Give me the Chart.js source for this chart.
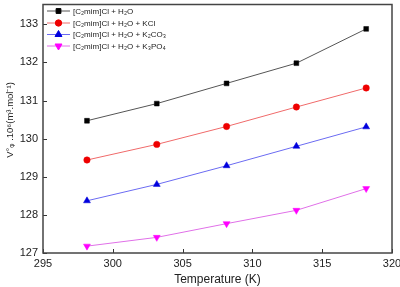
<!DOCTYPE html>
<html lang="en">
<head>
    <meta charset="UTF-8">
    <title>Apparent molar volume vs temperature</title>
    <style>
        html, body { margin: 0; padding: 0; background: #fff; }
        #wrap { width: 400px; height: 287px; position: relative; }
    </style>
    <script src="https://cdn.jsdelivr.net/npm/chart.js@4"></script>
</head>
<body>
    <div id="wrap"><canvas id="volChart"></canvas></div>
    <script>
        // data
        const temps = [298.15, 303.15, 308.15, 313.15, 318.15];
        const water = [130.47, 130.92, 131.45, 131.98, 132.88];
        const kcl = [129.44, 129.85, 130.32, 130.83, 131.33];
        const k2co3 = [128.37, 128.80, 129.29, 129.80, 130.31];
        const k3po4 = [127.18, 127.41, 127.77, 128.12, 128.69];

        const seriesNames = [
            '[C₂mim]Cl + H₂O',
            '[C₂mim]Cl + H₂O + KCl',
            '[C₂mim]Cl + H₂O + K₂CO₃',
            '[C₂mim]Cl + H₂O + K₃PO₄'
        ];
        const xTicks = [295, 300, 305, 310, 315, 320];
        const yTicks = [127, 128, 129, 130, 131, 132, 133];

        const FONT = 'Liberation Sans, Arial, sans-serif';

        function makeSet(label, values, line, mark, shape, rot, size) {
            return {
                label: label,
                data: values.map((v, i) => ({ x: temps[i], y: v })),
                borderColor: line,
                borderWidth: 1,
                backgroundColor: mark,
                pointBackgroundColor: mark,
                pointBorderColor: mark,
                pointStyle: shape,
                rotation: rot,
                pointRadius: size,
                pointBorderWidth: 0.5,
                tension: 0
            };
        }

        const datasets = [
            makeSet(seriesNames[0], water, '#555555', '#000000', 'rect', 0, 3.4),
            makeSet(seriesNames[1], kcl, '#f06a6a', '#ee0000', 'circle', 0, 3.2),
            makeSet(seriesNames[2], k2co3, '#6b6bf2', '#0000dd', 'triangle', 0, 4),
            makeSet(seriesNames[3], k3po4, '#e070e8', '#ff00ff', 'triangle', 180, 4)
        ];

        // frame, inward ticks and the line+marker legend
        const decor = {
            id: 'decor',
            afterDraw(chart) {
                const ctx = chart.ctx;
                const a = chart.chartArea;
                const xs = chart.scales.x, ys = chart.scales.y;
                ctx.save();
                ctx.strokeStyle = '#333';
                ctx.lineWidth = 1;
                ctx.beginPath();
                xTicks.forEach(t => {
                    const px = Math.round(xs.getPixelForValue(t)) + 0.5;
                    ctx.moveTo(px, a.bottom);
                    ctx.lineTo(px, a.bottom - 4);
                });
                yTicks.forEach(t => {
                    const py = Math.round(ys.getPixelForValue(t)) + 0.5;
                    ctx.moveTo(a.left, py);
                    ctx.lineTo(a.left + 4, py);
                });
                ctx.stroke();
                ctx.lineWidth = 1.5;
                ctx.strokeStyle = '#444';
                ctx.strokeRect(a.left, a.top, a.right - a.left, a.bottom - a.top);

                // legend
                ctx.font = '8px ' + FONT;
                ctx.textBaseline = 'middle';
                const rows = [11, 23, 34.5, 46];
                chart.data.datasets.forEach((ds, i) => {
                    const y = rows[i];
                    ctx.strokeStyle = ds.borderColor;
                    ctx.lineWidth = 1;
                    ctx.beginPath();
                    ctx.moveTo(47, y);
                    ctx.lineTo(70, y);
                    ctx.stroke();
                    ctx.fillStyle = ds.pointBackgroundColor;
                    ctx.strokeStyle = ds.pointBorderColor;
                    Chart.helpers.drawPoint(ctx, {
                        pointStyle: ds.pointStyle,
                        rotation: ds.rotation,
                        radius: ds.pointRadius,
                        borderWidth: 0.5
                    }, 58.5, y);
                    ctx.fillStyle = '#222';
                    ctx.fillText(ds.label, 73, y + 0.5);
                });

                // y axis title
                ctx.fillStyle = '#222';
                ctx.translate(10, 120);
                ctx.rotate(-Math.PI / 2);
                ctx.textAlign = 'center';
                ctx.font = '9.5px ' + FONT;
                ctx.fillText('V°ᵩ .10⁶(m³.mol⁻¹)', 0, 0);
                ctx.restore();
            }
        };

        new Chart(document.getElementById('volChart'), {
            type: 'line',
            data: { datasets: datasets },
            options: {
                responsive: true,
                maintainAspectRatio: false,
                animation: false,
                layout: { padding: { top: 0, right: 8, left: 0, bottom: 0 } },
                plugins: { legend: { display: false }, tooltip: { enabled: false } },
                scales: {
                    x: {
                        type: 'linear',
                        min: 295,
                        max: 320,
                        afterBuildTicks: s => { s.ticks = xTicks.map(v => ({ value: v })); },
                        afterFit: s => { s.height = 34; s.paddingLeft = 0; s.paddingRight = 0; },
                        grid: { display: false, drawTicks: false },
                        border: { display: false },
                        ticks: { color: '#222', font: { size: 11, family: FONT }, padding: 4 },
                        title: {
                            display: true,
                            text: 'Temperature (K)',
                            color: '#222',
                            font: { size: 12, family: FONT },
                            padding: { top: 0, bottom: 0 }
                        }
                    },
                    y: {
                        min: 127,
                        max: 133.52,
                        afterBuildTicks: s => { s.ticks = yTicks.map(v => ({ value: v })); },
                        afterFit: s => { s.width = 43; s.paddingTop = 0; s.paddingBottom = 0; },
                        grid: { display: false, drawTicks: false },
                        border: { display: false },
                        ticks: { color: '#222', font: { size: 11, family: FONT }, padding: 5 }
                    }
                }
            },
            plugins: [decor]
        });
    </script>
</body>
</html>
